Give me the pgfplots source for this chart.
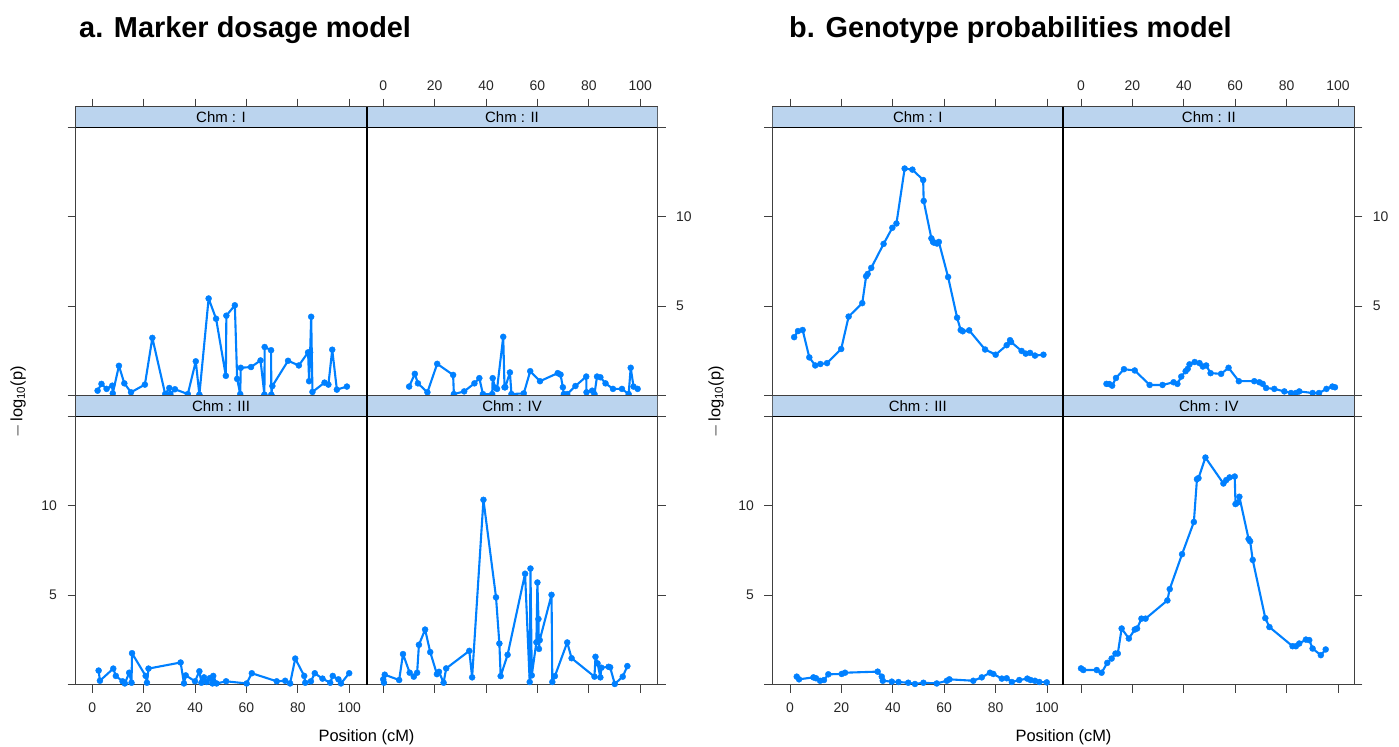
\documentclass[border=0pt]{standalone}
\usepackage{fontspec}
\setmainfont{Liberation Sans}
\usepackage{pgfplots}
\pgfplotsset{compat=1.18}
\definecolor{lblue}{HTML}{0080FF}
\definecolor{stripc}{RGB}{187,212,238}
\definecolor{framec}{gray}{0.25}
\newcommand{\tickfont}{\fontsize{14}{15}\selectfont}
\newcommand{\stripfont}{\fontsize{15}{16}\selectfont}
\newcommand{\strip}[1]{%
  \fill[stripc] (rel axis cs:0,0.92908) rectangle (rel axis cs:1,1);
  \draw[black, line width=0.8bp] (rel axis cs:0,0.92908) -- (rel axis cs:1,0.92908);
  \draw[framec, line width=0.8bp] (rel axis cs:0,0) rectangle (rel axis cs:1,1);
  \node[font=\stripfont, inner sep=0pt] at (rel axis cs:0.5,0.96454) {#1};}
\pgfplotsset{
  panel/.style={
    scale only axis, width=291bp, height=289bp,
    ymin=0, ymax=16.145,
    axis line style={framec, line width=0.8bp},
    every tick/.style={framec, line width=0.8bp},
    tick align=outside, major tick length=8bp,
    xtick={0,20,40,60,80,100}, ytick={0,5,10,15},
    xticklabels={}, yticklabels={},
    tick label style={font=\tickfont, text=black!85},
  },
  pa/.style={panel, xmin=-6.5, xmax=106.73},
  pb/.style={panel, xmin=-6.9, xmax=106.33},
  tl/.style={xtick pos=right, ytick pos=left},
  tr/.style={xtick pos=right, xticklabel pos=right, ytick pos=right, yticklabel pos=right,
     xticklabels={0,20,40,60,80,100}, yticklabels={,5,10,},
     xticklabel style={yshift=5bp}, yticklabel style={xshift=7bp}},
  bl/.style={xtick pos=left, xticklabel pos=left, ytick pos=left, yticklabel pos=left,
     xticklabels={0,20,40,60,80,100}, yticklabels={,5,10,},
     xticklabel style={yshift=-7bp}, yticklabel style={xshift=-7bp}},
  br/.style={xtick pos=left, ytick pos=right},
  qtl/.style={color=lblue, line width=2.1bp, line join=round, line cap=round, mark=*, mark size=3bp,
     mark options={fill=lblue, draw=lblue, line width=0.4bp}},
}
\begin{document}
\begin{tikzpicture}
\useasboundingbox (0,0) rectangle (1399bp,747bp);
% ---------------- a. Marker dosage model ----------------
\begin{axis}[pa, tl, at={(75.5bp,351.3bp)}, anchor=south west]
\addplot[qtl] coordinates {(2.1,0.28) (3.6,0.66) (5.6,0.38) (7.8,0.56) (8.0,0.13) (10.4,1.67) (12.5,0.69) (15.1,0.19) (20.5,0.62) (23.4,3.23) (28.4,0.09) (30.0,0.43) (30.4,0.09) (32.2,0.36) (37.2,0.09) (40.3,1.92) (41.7,0.06) (45.3,5.43) (48.2,4.30) (52.0,1.11) (52.2,4.47) (55.5,5.05) (56.4,0.94) (57.6,0.09) (57.8,1.56) (61.8,1.60) (65.5,1.97) (67.0,0.06) (67.1,2.72) (69.6,2.54) (69.7,0.06) (70.1,0.54) (76.2,1.95) (80.4,1.69) (84.0,2.42) (84.4,0.81) (84.8,2.42) (85.2,4.41) (85.7,0.21) (90.4,0.73) (91.9,0.62) (93.4,2.57) (95.2,0.34) (99.1,0.51)};
\strip{Chm : I}
\end{axis}
\begin{axis}[pa, tr, at={(366.5bp,351.3bp)}, anchor=south west]
\addplot[qtl] coordinates {(10.1,0.51) (12.3,1.22) (13.5,0.69) (17.2,0.19) (21.0,1.78) (27.2,1.16) (27.5,0.09) (31.5,0.24) (35.5,0.69) (37.4,0.98) (38.8,0.09) (42.4,0.09) (42.6,0.98) (43.5,0.45) (44.3,0.38) (46.7,3.29) (47.2,0.47) (47.5,0.47) (49.3,1.30) (49.9,0.09) (54.7,0.13) (57.2,1.37) (61.0,0.81) (67.9,1.26) (69.0,1.18) (69.9,0.47) (70.3,0.09) (71.6,0.09) (74.8,0.54) (79.0,1.07) (79.1,0.19) (81.3,0.28) (82.2,0.09) (83.2,1.07) (84.5,1.03) (86.5,0.69) (89.4,0.38) (92.9,0.38) (95.5,0.09) (96.3,1.56) (97.4,0.51) (99.0,0.38)};
\strip{Chm : II}
\end{axis}
\begin{axis}[pa, bl, at={(75.5bp,62.3bp)}, anchor=south west]
\addplot[qtl] coordinates {(2.5,0.79) (3.0,0.22) (8.2,0.90) (9.2,0.49) (11.8,0.19) (12.7,0.07) (14.4,0.67) (15.3,0.11) (15.5,1.76) (20.8,0.49) (21.3,0.11) (21.9,0.90) (34.4,1.24) (35.7,0.07) (36.4,0.52) (40.0,0.19) (41.7,0.75) (42.5,0.11) (43.5,0.41) (44.5,0.15) (45.8,0.37) (46.8,0.07) (47.1,0.49) (48.4,0.07) (52.1,0.19) (60.1,0.07) (62.1,0.64) (71.8,0.19) (75.1,0.22) (77.0,0.07) (79.0,1.46) (82.5,0.49) (82.9,0.11) (85.1,0.19) (86.6,0.64) (89.6,0.34) (92.6,0.11) (93.6,0.49) (95.8,0.30) (96.8,0.07) (100.0,0.64)};
\strip{Chm : III}
\end{axis}
\begin{axis}[pa, br, at={(366.5bp,62.3bp)}, anchor=south west]
\addplot[qtl] coordinates {(0.0,0.30) (0.3,0.11) (0.6,0.56) (6.2,0.26) (7.7,1.71) (10.3,0.67) (11.9,0.45) (13.2,0.67) (13.9,2.23) (16.3,3.08) (18.3,1.82) (20.9,0.59) (21.7,0.72) (23.5,0.11) (24.5,0.91) (33.5,1.89) (34.6,0.41) (39.0,10.33) (43.9,4.88) (45.2,2.30) (45.7,0.48) (48.4,1.67) (55.2,6.20) (57.0,0.15) (57.3,6.49) (57.8,0.52) (59.6,2.37) (60.0,5.71) (60.4,3.67) (60.6,2.00) (60.9,2.49) (65.5,5.02) (65.8,0.15) (66.8,0.48) (71.6,2.36) (73.3,1.48) (82.2,0.45) (82.6,1.56) (83.4,1.19) (84.5,0.41) (84.9,0.95) (87.7,1.00) (88.3,0.97) (90.1,0.04) (93.2,0.45) (95.0,1.04)};
\strip{Chm : IV}
\end{axis}
% ---------------- b. Genotype probabilities model ----------------
\begin{axis}[pb, tl, at={(772.3bp,351.3bp)}, anchor=south west]
\addplot[qtl] coordinates {(1.6,3.27) (3.1,3.61) (4.9,3.67) (7.5,2.14) (9.8,1.69) (11.8,1.77) (14.4,1.82) (19.9,2.61) (22.8,4.42) (28.1,5.17) (29.6,6.67) (30.2,6.80) (31.6,7.14) (36.4,8.48) (39.8,9.38) (41.4,9.62) (44.6,12.69) (47.6,12.63) (51.8,12.05) (52.0,10.88) (55.0,8.79) (55.6,8.60) (56.0,8.55) (57.2,8.50) (57.9,8.59) (61.5,6.63) (65.0,4.36) (66.4,3.67) (67.2,3.60) (69.7,3.65) (75.9,2.58) (80.0,2.29) (84.3,2.82) (85.6,3.10) (86.0,3.00) (90.1,2.50) (91.7,2.35) (93.4,2.39) (95.3,2.24) (98.6,2.29)};
\strip{Chm : I}
\end{axis}
\begin{axis}[pb, tr, at={(1063.3bp,351.3bp)}, anchor=south west]
\addplot[qtl] coordinates {(9.9,0.66) (11.0,0.65) (12.1,0.56) (13.6,0.99) (16.7,1.48) (20.9,1.41) (26.7,0.60) (31.7,0.60) (36.0,0.75) (37.5,0.66) (39.0,1.07) (40.7,1.37) (41.5,1.50) (42.2,1.75) (44.2,1.88) (46.1,1.82) (47.4,1.63) (48.7,1.69) (50.4,1.26) (54.5,1.22) (57.4,1.56) (61.4,0.81) (67.4,0.81) (69.4,0.75) (70.7,0.66) (72.0,0.43) (75.2,0.38) (79.1,0.24) (81.7,0.15) (83.6,0.15) (84.9,0.24) (90.1,0.15) (92.6,0.15) (95.5,0.38) (97.8,0.51) (98.8,0.47)};
\strip{Chm : II}
\end{axis}
\begin{axis}[pb, bl, at={(772.3bp,62.3bp)}, anchor=south west]
\addplot[qtl] coordinates {(2.6,0.45) (3.5,0.30) (9.1,0.41) (10.1,0.36) (11.7,0.22) (13.2,0.26) (14.9,0.58) (20.1,0.60) (21.4,0.67) (34.1,0.73) (35.7,0.45) (36.1,0.22) (39.6,0.17) (42.2,0.15) (46.0,0.11) (48.6,0.04) (51.9,0.11) (57.1,0.07) (61.0,0.22) (62.0,0.30) (71.3,0.22) (74.6,0.41) (77.8,0.67) (79.1,0.60) (82.4,0.34) (84.3,0.36) (86.3,0.15) (89.2,0.26) (92.3,0.34) (93.6,0.26) (95.3,0.22) (97.0,0.15) (99.9,0.13)};
\strip{Chm : III}
\end{axis}
\begin{axis}[pb, br, at={(1063.3bp,62.3bp)}, anchor=south west]
\addplot[qtl] coordinates {(0.0,0.91) (0.9,0.82) (6.1,0.82) (8.0,0.67) (10.2,1.22) (11.9,1.46) (13.4,1.74) (14.3,1.74) (15.8,3.14) (18.6,2.58) (20.9,3.08) (21.8,3.14) (23.5,3.69) (25.1,3.69) (33.6,4.71) (34.5,5.34) (39.3,7.29) (43.9,9.09) (45.1,11.48) (45.7,11.54) (48.4,12.69) (55.4,11.24) (56.5,11.43) (57.8,11.58) (59.8,11.63) (60.1,10.09) (61.0,10.18) (61.6,10.50) (65.2,8.14) (65.8,8.01) (66.8,6.97) (71.7,3.72) (73.3,3.22) (82.3,2.15) (83.6,2.15) (84.9,2.30) (87.5,2.52) (88.8,2.49) (90.1,2.02) (93.3,1.65) (95.2,1.97)};
\strip{Chm : IV}
\end{axis}
% dividers
\draw[black, line width=2bp] (366.5bp,62.3bp) -- (366.5bp,640.3bp);
\draw[black, line width=2bp] (1063.3bp,62.3bp) -- (1063.3bp,640.3bp);
% titles and labels
\node[anchor=base west, font=\bfseries\fontsize{29}{30}\selectfont, inner sep=0pt] at (79bp,709bp) {a. Marker dosage model};
\node[anchor=base west, font=\bfseries\fontsize{29}{30}\selectfont, inner sep=0pt] at (789bp,709bp) {b. Genotype probabilities model};
\node[font=\fontsize{16.5}{18}\selectfont] at (366.5bp,10bp) {Position (cM)};
\node[font=\fontsize{16.5}{18}\selectfont] at (1063.5bp,10bp) {Position (cM)};
\node[rotate=90, font=\fontsize{16.5}{18}\selectfont] at (18bp,345bp) {$-$\,log\textsubscript{10}(p)};
\node[rotate=90, font=\fontsize{16.5}{18}\selectfont] at (716bp,345bp) {$-$\,log\textsubscript{10}(p)};
\end{tikzpicture}
\end{document}
